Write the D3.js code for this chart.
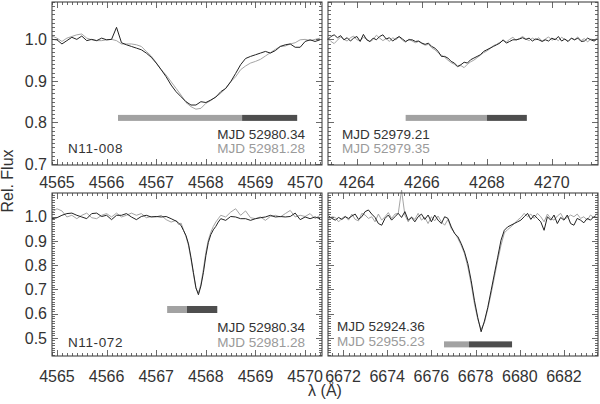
<!DOCTYPE html>
<html>
<head>
<meta charset="utf-8">
<script src="https://cdn.jsdelivr.net/npm/d3@7"></script>
<style>
  body { margin: 0; background: #fff; }
  text { font-family: "Liberation Sans", Arial, sans-serif; }
</style>
</head>
<body>
<div id="chart"></div>
<script>

// Data
//------------------------------

// N11-008, 4565-4570 A
var wlTL = [4564.9, 4565.0, 4565.1, 4565.2, 4565.3, 4565.4, 4565.5, 4565.6, 4565.7, 4565.8,
  4565.9, 4566.0, 4566.1, 4566.2, 4566.3, 4566.4, 4566.5, 4566.6, 4566.7, 4566.8,
  4566.9, 4567.0, 4567.1, 4567.2, 4567.3, 4567.4, 4567.5, 4567.6, 4567.7, 4567.8,
  4567.9, 4568.0, 4568.1, 4568.2, 4568.3, 4568.4, 4568.5, 4568.6, 4568.7, 4568.8,
  4568.9, 4569.0, 4569.1, 4569.2, 4569.3, 4569.4, 4569.5, 4569.6, 4569.7, 4569.8,
  4569.9, 4570.0, 4570.1, 4570.2, 4570.3];
var fluxTL1 = [1.000, 0.999, 0.989, 0.997, 1.005, 1.000, 1.008, 0.997, 1.000, 0.997,
  1.003, 0.999, 1.000, 1.029, 0.992, 0.987, 0.983, 0.979, 0.975, 0.967,
  0.957, 0.943, 0.927, 0.910, 0.890, 0.874, 0.862, 0.850, 0.842, 0.842,
  0.850, 0.848, 0.854, 0.861, 0.874, 0.882, 0.898, 0.918, 0.939, 0.954,
  0.959, 0.963, 0.967, 0.971, 0.967, 0.973, 0.983, 0.987, 0.989, 0.981,
  0.981, 0.995, 0.999, 0.995, 0.999];
var fluxTL2 = [1.008, 1.003, 0.995, 1.003, 1.007, 1.011, 1.013, 1.003, 0.999, 0.997,
  0.997, 0.999, 1.000, 0.997, 0.989, 0.989, 0.989, 0.987, 0.983, 0.971,
  0.960, 0.944, 0.927, 0.914, 0.898, 0.882, 0.866, 0.848, 0.838, 0.832,
  0.834, 0.846, 0.853, 0.862, 0.870, 0.882, 0.898, 0.910, 0.927, 0.936,
  0.943, 0.947, 0.952, 0.960, 0.968, 0.976, 0.983, 0.984, 0.989, 0.992,
  0.999, 1.000, 0.997, 1.000, 1.003];
var barTL = [4566.23, 4568.73, 4569.84];

// 4263-4271 A
var wlTR = [4263.1, 4263.2, 4263.3, 4263.4, 4263.5, 4263.6, 4263.7, 4263.8, 4263.9, 4264.0,
  4264.1, 4264.2, 4264.3, 4264.4, 4264.5, 4264.6, 4264.7, 4264.8, 4264.9, 4265.0,
  4265.1, 4265.2, 4265.3, 4265.4, 4265.5, 4265.6, 4265.7, 4265.8, 4265.9, 4266.0,
  4266.1, 4266.2, 4266.3, 4266.4, 4266.5, 4266.6, 4266.7, 4266.8, 4266.9, 4267.0,
  4267.1, 4267.2, 4267.3, 4267.4, 4267.5, 4267.6, 4267.7, 4267.8, 4267.9, 4268.0,
  4268.1, 4268.2, 4268.3, 4268.4, 4268.5, 4268.6, 4268.7, 4268.8, 4268.9, 4269.0,
  4269.1, 4269.2, 4269.3, 4269.4, 4269.5, 4269.6, 4269.7, 4269.8, 4269.9, 4270.0,
  4270.1, 4270.2, 4270.3, 4270.4, 4270.5, 4270.6, 4270.7, 4270.8, 4270.9, 4271.0,
  4271.1, 4271.2, 4271.3, 4271.4];
var fluxTR1 = [0.999, 1.007, 1.011, 1.004, 1.009, 0.999, 1.004, 0.996, 1.003, 1.007,
  0.995, 1.012, 0.999, 0.995, 1.003, 0.999, 1.007, 1.011, 1.001, 1.004,
  0.996, 1.002, 1.007, 1.001, 0.995, 0.999, 0.999, 0.995, 0.996, 0.991,
  0.988, 0.991, 0.983, 0.979, 0.971, 0.959, 0.959, 0.955, 0.947, 0.943,
  0.935, 0.939, 0.945, 0.943, 0.951, 0.955, 0.959, 0.963, 0.971, 0.975,
  0.979, 0.983, 0.987, 0.991, 0.999, 0.991, 0.995, 0.999, 0.999, 1.001,
  1.004, 1.000, 1.003, 0.996, 1.001, 0.999, 0.995, 0.999, 0.996, 1.003,
  0.999, 1.007, 0.996, 1.001, 0.995, 1.003, 0.999, 1.003, 0.995, 0.996,
  1.003, 0.999, 0.996, 1.001];
var fluxTR2 = [1.003, 0.995, 0.990, 0.998, 1.006, 1.000, 0.996, 1.004, 1.008, 0.999,
  0.997, 1.005, 1.001, 0.994, 1.000, 1.010, 1.003, 0.997, 1.002, 0.995,
  1.004, 0.999, 1.006, 0.998, 0.993, 1.001, 0.996, 0.992, 0.995, 0.990,
  0.986, 0.988, 0.980, 0.975, 0.968, 0.962, 0.957, 0.950, 0.944, 0.940,
  0.934, 0.937, 0.932, 0.940, 0.946, 0.950, 0.956, 0.962, 0.968, 0.972,
  0.978, 0.985, 0.988, 0.993, 0.997, 0.994, 1.000, 1.005, 0.998, 1.002,
  1.007, 1.001, 0.997, 1.003, 0.999, 1.004, 0.996, 1.001, 1.006, 0.998,
  1.002, 0.997, 1.005, 1.000, 0.995, 1.003, 0.999, 1.006, 0.997, 1.002,
  0.994, 1.001, 0.998, 1.004];
var barTR = [4265.5, 4268.0, 4269.23];

// N11-072, 4565-4570 A
var wlBL = [4564.9, 4565.0, 4565.1, 4565.2, 4565.3, 4565.4, 4565.5, 4565.6, 4565.7, 4565.8,
  4565.9, 4566.0, 4566.1, 4566.2, 4566.3, 4566.4, 4566.5, 4566.6, 4566.7, 4566.8,
  4566.9, 4567.0, 4567.1, 4567.2, 4567.3,
  4567.4, 4567.45, 4567.5, 4567.55, 4567.6, 4567.65, 4567.7, 4567.75, 4567.8, 4567.85,
  4567.9, 4567.95, 4568.0, 4568.05, 4568.1, 4568.15, 4568.2, 4568.25, 4568.3,
  4568.4, 4568.5, 4568.6, 4568.7, 4568.8, 4568.9, 4569.0, 4569.1, 4569.2, 4569.3,
  4569.4, 4569.5, 4569.6, 4569.7, 4569.8, 4569.9, 4570.0, 4570.1, 4570.2, 4570.3];
var fluxBL1 = [0.992, 0.996, 1.006, 1.013, 1.015, 1.006, 0.999, 0.992, 1.013, 1.015,
  1.001, 1.006, 0.988, 1.006, 1.006, 1.013, 0.999, 0.988, 1.001, 1.006,
  0.999, 1.001, 0.999, 1.001, 0.992,
  0.982, 0.974, 0.964, 0.943, 0.922, 0.888, 0.832, 0.769, 0.707, 0.678,
  0.714, 0.769, 0.839, 0.894, 0.926, 0.946, 0.960, 0.978, 0.992,
  0.985, 1.001, 0.999, 0.992, 0.992, 0.985, 0.992, 0.996, 0.999, 1.006,
  0.999, 1.001, 0.999, 1.001, 1.015, 0.988, 0.999, 0.992, 0.999, 0.992];
var fluxBL2 = [1.019, 1.033, 1.024, 0.999, 1.006, 0.992, 1.006, 1.015, 0.996, 0.992,
  1.006, 1.013, 0.999, 1.015, 0.999, 1.006, 1.015, 1.006, 1.013, 0.996,
  1.001, 0.999, 1.006, 0.988, 0.978,
  0.985, 0.968, 0.974, 0.946, 0.918, 0.881, 0.825, 0.763, 0.704, 0.685,
  0.721, 0.783, 0.853, 0.904, 0.936, 0.960, 0.978, 0.992, 1.006,
  0.999, 1.019, 1.033, 1.006, 1.024, 0.996, 0.992, 0.999, 0.985, 1.001,
  1.006, 0.999, 1.013, 1.026, 0.999, 1.006, 1.001, 1.013, 0.992, 1.006];
var barBL = [4567.22, 4567.62, 4568.23];

// 6671-6683 A
var wlBR = [6671.35, 6671.5, 6671.65, 6671.8, 6671.95, 6672.1, 6672.25, 6672.4, 6672.55, 6672.7,
  6672.85, 6673.0, 6673.15, 6673.3, 6673.45, 6673.6, 6673.75, 6673.9, 6674.05, 6674.2,
  6674.35, 6674.5, 6674.65, 6674.8, 6674.95, 6675.1, 6675.25, 6675.4, 6675.55, 6675.7,
  6675.85, 6676.0, 6676.15, 6676.3, 6676.45, 6676.6, 6676.75, 6676.9, 6677.05, 6677.2,
  6677.35, 6677.5, 6677.65, 6677.8, 6677.95, 6678.1, 6678.25, 6678.4, 6678.55, 6678.7,
  6678.85, 6679.0, 6679.15, 6679.3, 6679.45, 6679.6, 6679.75, 6679.9, 6680.05, 6680.2,
  6680.35, 6680.5, 6680.65, 6680.8, 6680.95, 6681.1, 6681.25, 6681.4, 6681.55, 6681.7,
  6681.85, 6682.0, 6682.15, 6682.3, 6682.45, 6682.6, 6682.75, 6682.9, 6683.05, 6683.2,
  6683.35, 6683.5];
var fluxBR1 = [1.003, 0.993, 0.986, 0.997, 0.989, 1.000, 0.993, 1.003, 1.011, 0.989,
  1.000, 1.021, 1.028, 1.011, 0.997, 0.972, 0.965, 0.993, 1.007, 0.986,
  1.000, 1.014, 0.997, 1.021, 0.986, 0.997, 0.979, 1.000, 1.011, 0.989,
  1.007, 0.979, 1.007, 0.986, 0.972, 1.000, 0.993, 0.958, 0.931, 0.917,
  0.889, 0.854, 0.806, 0.736, 0.653, 0.583, 0.525, 0.569, 0.625, 0.694,
  0.764, 0.833, 0.903, 0.944, 0.958, 0.965, 0.972, 0.979, 0.986, 1.000,
  1.014, 0.989, 1.007, 0.993, 0.979, 0.944, 1.000, 0.986, 1.007, 0.972,
  0.997, 0.986, 1.007, 0.972, 0.965, 0.993, 0.986, 0.975, 0.993, 0.986,
  1.000, 0.997];
var fluxBR2 = [0.989, 1.000, 0.997, 0.979, 0.993, 1.003, 0.986, 1.011, 0.989, 0.983,
  1.014, 1.007, 0.993, 1.000, 0.979, 1.011, 0.986, 1.000, 1.017, 0.993,
  1.011, 1.014, 1.110, 1.007, 0.979, 1.000, 0.989, 1.014, 0.986, 0.997,
  0.972, 1.000, 0.983, 1.003, 0.979, 0.965, 0.989, 0.951, 0.933, 0.910,
  0.882, 0.847, 0.792, 0.722, 0.639, 0.576, 0.535, 0.563, 0.618, 0.681,
  0.750, 0.819, 0.882, 0.933, 0.947, 0.958, 0.972, 0.986, 0.997, 1.014,
  1.000, 1.011, 0.993, 1.014, 1.000, 0.979, 1.011, 0.993, 0.986, 1.003,
  1.014, 0.989, 0.997, 1.007, 1.000, 1.011, 0.993, 1.000, 0.986, 1.007,
  0.997, 1.014];
var barBR = [6676.57, 6677.70, 6679.65];

// Sizing / panel layout
//----------------------
var svgWidth = 600;
var svgHeight = 404;

var colBlack = "#222";
var colGray = "#9a9a9a";
var colBarLight = "#a2a2a2";
var colBarDark = "#4e4e4e";
var colText = "#333";

var panels = [
  { box: [52, 322, 2, 165], xDom: [4564.9, 4570.34], yDom: [0.6976, 1.09],
    xMajor: 1, xMinor: 0.1, yMajor: 0.1, yMinor: 0.01, yLabels: true, labelOff: 23,
    wl: wlTL, f1: fluxTL1, f2: fluxTL2, bar: barTL, barFlux: 0.811, barH: 6,
    star: "N11-008", mjd: ["MJD 52980.34", "MJD 52981.28"], mjdAnchor: "end", mjdX: 305, mjdY: [139, 153], starY: 153 },
  { box: [328, 598, 2, 165], xDom: [4263.11, 4271.42], yDom: [0.6976, 1.09],
    xMajor: 2, xMinor: 0.4, yMajor: 0.1, yMinor: 0.01, yLabels: false, labelOff: 23,
    wl: wlTR, f1: fluxTR1, f2: fluxTR2, bar: barTR, barFlux: 0.811, barH: 6,
    star: null, mjd: ["MJD 52979.21", "MJD 52979.35"], mjdAnchor: "start", mjdX: 342, mjdY: [139, 153] },
  { box: [52, 322, 193, 356], xDom: [4564.9, 4570.34], yDom: [0.425, 1.098],
    xMajor: 1, xMinor: 0.1, yMajor: 0.1, yMinor: 0.01, yLabels: true, labelOff: 25.5,
    wl: wlBL, f1: fluxBL1, f2: fluxBL2, bar: barBL, barFlux: 0.617, barH: 7,
    star: "N11-072", mjd: ["MJD 52980.34", "MJD 52981.28"], mjdAnchor: "end", mjdX: 305, mjdY: [332, 347], starY: 347 },
  { box: [328, 598, 193, 356], xDom: [6671.32, 6683.54], yDom: [0.425, 1.098],
    xMajor: 2, xMinor: 0.25, yMajor: 0.1, yMinor: 0.01, yLabels: false, labelOff: 25.5,
    wl: wlBR, f1: fluxBR1, f2: fluxBR2, bar: barBR, barFlux: 0.473, barH: 6,
    star: null, mjd: ["MJD 52924.36", "MJD 52955.23"], mjdAnchor: "start", mjdX: 337, mjdY: [331, 346] }
];

// SVG wrapper
//------------
var svg = d3.select("#chart")
  .append("svg")
  .attr("width", svgWidth)
  .attr("height", svgHeight);

// tick values between the domain ends, as multiples of step
function tickVals(dom, step) {
  var lo = Math.ceil(dom[0] / step - 1e-6);
  var hi = Math.floor(dom[1] / step + 1e-6);
  return d3.range(lo, hi + 1).map(i => +(i * step).toFixed(6));
}

function isMajor(v, major) {
  var r = v / major;
  return Math.abs(r - Math.round(r)) < 1e-6;
}

function drawPanel(p) {
  var x0 = p.box[0], x1 = p.box[1], y0 = p.box[2], y1 = p.box[3];
  var xScale = d3.scaleLinear().domain(p.xDom).range([x0, x1]);
  var yScale = d3.scaleLinear().domain(p.yDom).range([y1, y0]);
  var g = svg.append("g");

  // spectra (second epoch in gray underneath)
  var line = d3.line()
    .x((d, i) => xScale(p.wl[i]))
    .y(d => yScale(d));

  g.append("path")
    .datum(p.f2)
    .attr("d", line)
    .attr("fill", "none")
    .attr("stroke", colGray)
    .attr("stroke-width", 0.9);

  g.append("path")
    .datum(p.f1)
    .attr("d", line)
    .attr("fill", "none")
    .attr("stroke", colBlack)
    .attr("stroke-width", 1);

  // velocity bar: light then dark segment
  var segs = [[p.bar[0], p.bar[1], colBarLight], [p.bar[1], p.bar[2], colBarDark]];
  g.selectAll("rect.bar")
    .data(segs)
    .enter()
    .append("rect")
    .attr("class", "bar")
    .attr("x", d => xScale(d[0]))
    .attr("width", d => xScale(d[1]) - xScale(d[0]))
    .attr("y", yScale(p.barFlux) - p.barH / 2)
    .attr("height", p.barH)
    .attr("fill", d => d[2]);

  // frame
  g.append("rect")
    .attr("x", x0).attr("y", y0)
    .attr("width", x1 - x0).attr("height", y1 - y0)
    .attr("fill", "none")
    .attr("stroke", "#333")
    .attr("stroke-width", 1);

  // inward ticks on all four sides
  var ticks = g.append("g").attr("stroke", "#444").attr("stroke-width", 0.8);
  tickVals(p.xDom, p.xMinor).forEach(function(v) {
    var len = isMajor(v, p.xMajor) ? 6 : 3;
    var xx = Math.round(xScale(v)) + 0.5;
    ticks.append("line").attr("x1", xx).attr("x2", xx).attr("y1", y1).attr("y2", y1 - len);
    ticks.append("line").attr("x1", xx).attr("x2", xx).attr("y1", y0).attr("y2", y0 + len);
  });
  tickVals(p.yDom, p.yMinor).forEach(function(v) {
    var len = isMajor(v, p.yMajor) ? 6 : 3;
    var yy = Math.round(yScale(v)) + 0.5;
    ticks.append("line").attr("x1", x0).attr("x2", x0 + len).attr("y1", yy).attr("y2", yy);
    ticks.append("line").attr("x1", x1).attr("x2", x1 - len).attr("y1", yy).attr("y2", yy);
  });

  // tick labels
  g.selectAll("text.xlab")
    .data(tickVals(p.xDom, p.xMajor))
    .enter()
    .append("text")
    .attr("class", "xlab")
    .attr("x", d => xScale(d))
    .attr("y", y1 + p.labelOff)
    .attr("text-anchor", "middle")
    .attr("font-size", 16)
    .attr("fill", colText)
    .text(d3.format("d"));

  if (p.yLabels) {
    g.selectAll("text.ylab")
      .data(tickVals(p.yDom, p.yMajor))
      .enter()
      .append("text")
      .attr("class", "ylab")
      .attr("x", x0 - 5)
      .attr("y", d => yScale(d))
      .attr("dy", "0.36em")
      .attr("text-anchor", "end")
      .attr("font-size", 16)
      .attr("fill", colText)
      .text(d3.format(".1f"));
  }

  // annotations
  g.append("text")
    .attr("x", p.mjdX).attr("y", p.mjdY[0])
    .attr("text-anchor", p.mjdAnchor)
    .attr("font-size", 13.5)
    .attr("fill", colText)
    .text(p.mjd[0]);
  g.append("text")
    .attr("x", p.mjdX).attr("y", p.mjdY[1])
    .attr("text-anchor", p.mjdAnchor)
    .attr("font-size", 13.5)
    .attr("fill", colGray)
    .text(p.mjd[1]);
  if (p.star) {
    g.append("text")
      .attr("x", x0 + 16).attr("y", p.starY)
      .attr("font-size", 13.5)
      .attr("letter-spacing", 0.6)
      .attr("fill", colText)
      .text(p.star);
  }
}

panels.forEach(drawPanel);

// axis titles
svg.append("text")
  .attr("transform", "translate(13, 181) rotate(-90)")
  .attr("text-anchor", "middle")
  .attr("font-size", 16)
  .attr("fill", colText)
  .text("Rel. Flux");

svg.append("text")
  .attr("x", 325)
  .attr("y", 396)
  .attr("text-anchor", "middle")
  .attr("font-size", 16)
  .attr("fill", colText)
  .text("λ (Å)");

</script>
</body>
</html>
